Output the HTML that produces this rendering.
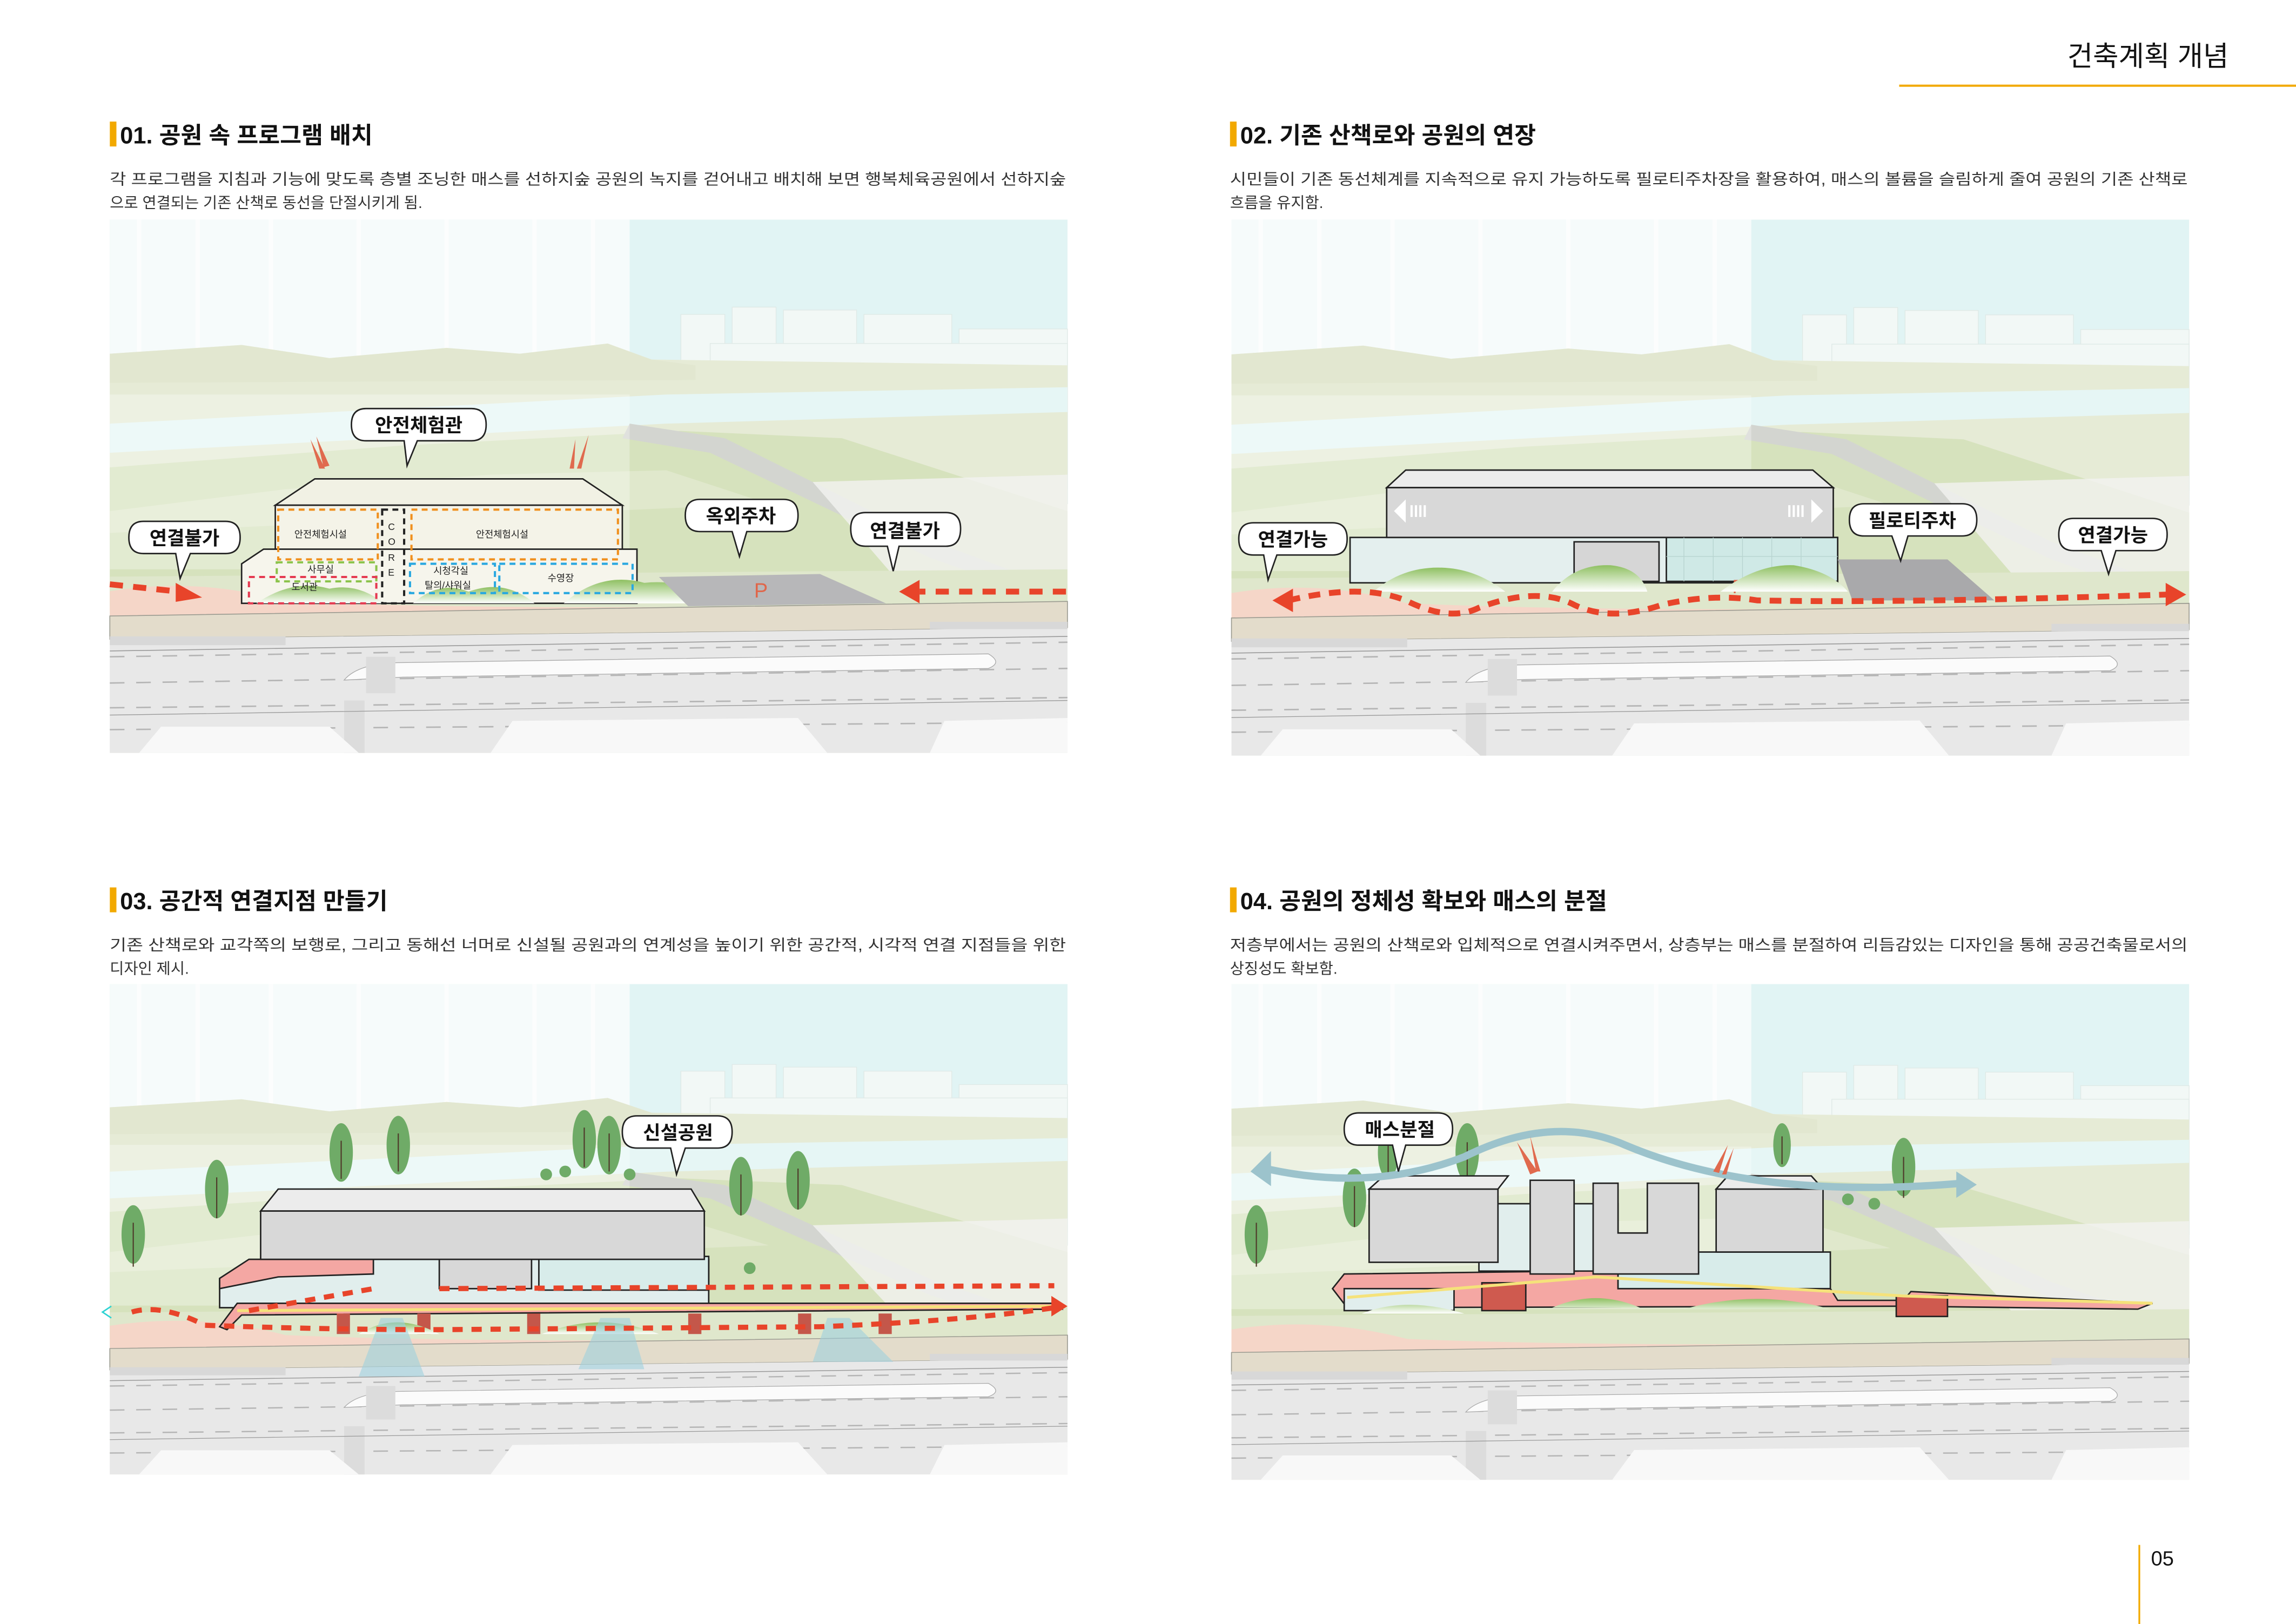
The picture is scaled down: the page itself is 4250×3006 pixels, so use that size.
<!DOCTYPE html>
<html><head><meta charset="utf-8"><style>
html,body{margin:0;padding:0;background:#fff}
svg{display:block}
text{font-family:"Liberation Sans","Noto Sans CJK KR",sans-serif}
</style></head><body>
<svg width="4250" height="3006" viewBox="0 0 1568 1109" xmlns="http://www.w3.org/2000/svg">
<defs>
<g id="bg">
  <rect x="0" y="0" width="654" height="366" fill="#eef3e6"/>
  <rect x="0" y="0" width="654" height="120" fill="#e1f4f4"/>
  <rect x="0" y="0" width="355" height="120" fill="#f6fbfb"/>
  <g stroke="#ffffff" stroke-width="3" opacity="0.7">
    <line x1="20" y1="0" x2="20" y2="200"/><line x1="60" y1="0" x2="60" y2="200"/><line x1="110" y1="0" x2="110" y2="200"/><line x1="170" y1="0" x2="170" y2="200"/><line x1="230" y1="0" x2="230" y2="200"/><line x1="290" y1="0" x2="290" y2="200"/><line x1="330" y1="0" x2="330" y2="200"/>
  </g>
  <g fill="#f2f8f6" stroke="#dfe9e6" stroke-width="0.5">
    <rect x="390" y="65" width="30" height="120"/><rect x="425" y="60" width="30" height="120"/><rect x="460" y="62" width="50" height="120"/><rect x="515" y="65" width="60" height="120"/><rect x="580" y="75" width="74" height="120"/>
    <rect x="410" y="85" width="244" height="100"/>
  </g>
  <path d="M0 92 L90 86 L150 95 L230 88 L280 92 L340 85 L370 96 L654 100 L654 270 L0 270Z" fill="#e6ebd6"/>
  <path d="M0 92 L90 86 L150 95 L230 88 L280 92 L340 85 L370 96 L400 100 L400 110 L0 112Z" fill="#dfe5cc" opacity="0.6"/>
  <path d="M0 140 L380 120 L654 115 L654 132 L380 140 L0 160Z" fill="#e6f6f5"/>
  <path d="M0 170 L200 155 L390 145 L500 150 L654 200 L654 260 L0 265Z" fill="#d6e2bd"/>
  <path d="M355 140 L420 150 L560 220 L654 255 L654 265 L560 232 L410 160 L350 150Z" fill="#d3d5d0"/>
  <path d="M0 200 L120 185 L260 175 L380 172 L450 195 L0 215Z" fill="#e4ebd3" opacity="0.7"/>
  <rect x="0" y="120" width="355" height="120" fill="#ffffff" opacity="0.3"/>
  <path d="M480 180 L654 175 L654 250 L540 250Z" fill="#f3f3f0" opacity="0.8"/>
  <path d="M0 245 L654 240 L654 272 L0 275Z" fill="#dfe7cc"/>
  <path d="M0 255 Q60 245 120 262 Q300 270 654 262 L654 272 L0 278Z" fill="#f5d6c8"/>
  <path d="M0 272 L654 262 L654 280 L0 288Z" fill="#e3dccb" stroke="#9a9a90" stroke-width="0.6"/>
  <path d="M0 288 L654 280 L654 366 L0 366Z" fill="#e8e8e8"/>
  <g stroke="#b5b5b5" stroke-width="1" stroke-dasharray="10 8" fill="none">
    <path d="M0 300 L654 290"/><path d="M0 318 L654 308"/><path d="M0 335 L654 328"/><path d="M0 350 L654 345"/>
  </g>
  <path d="M0 296 L654 286" stroke="#999" stroke-width="0.6"/>
  <path d="M160 316 Q170 304 200 304 L600 298 Q610 304 600 308 L200 314Z" fill="#fbfbfb" stroke="#aaa" stroke-width="0.5"/>
  <g fill="#dcdcdc"><rect x="175" y="300" width="20" height="25"/><rect x="160" y="330" width="14" height="36"/></g>
  <path d="M0 340 L654 330" stroke="#999" stroke-width="0.5"/>
  <path d="M20 366 L35 348 L150 348 L170 366Z" fill="#f8f8f8"/>
  <path d="M260 366 L275 344 L470 342 L490 366Z" fill="#f8f8f8"/>
  <path d="M560 366 L570 344 L654 342 L654 366Z" fill="#f8f8f8"/>
  <rect x="0" y="286" width="120" height="6" fill="#d8d8d8"/>
  <rect x="560" y="276" width="94" height="5" fill="#d8d8d8"/>
</g>
<linearGradient id="mound" x1="0" y1="0" x2="0" y2="1"><stop offset="0" stop-color="#8fc062"/><stop offset="1" stop-color="#ffffff"/></linearGradient>
</defs>

<text x="1522" y="45" font-size="19" text-anchor="end" fill="#111">건축계획 개념</text>
<line x1="1297" y1="58.5" x2="1568" y2="58.5" stroke="#f2a900" stroke-width="1.5"/>

<g font-weight="bold">
<rect x="75" y="83" width="4.5" height="17" fill="#f2a900"/>
<text x="82" y="98" font-size="16" fill="#111">01. 공원 속 프로그램 배치</text>
<rect x="840" y="83" width="4.5" height="17" fill="#f2a900"/>
<text x="847" y="98" font-size="16" fill="#111">02. 기존 산책로와 공원의 연장</text>
<rect x="75" y="606" width="4.5" height="17" fill="#f2a900"/>
<text x="82" y="621" font-size="16" fill="#111">03. 공간적 연결지점 만들기</text>
<rect x="840" y="606" width="4.5" height="17" fill="#f2a900"/>
<text x="847" y="621" font-size="16" fill="#111">04. 공원의 정체성 확보와 매스의 분절</text>
</g>

<g font-size="10.5" fill="#333">
<text x="75" y="126" textLength="653" lengthAdjust="spacingAndGlyphs">각 프로그램을 지침과 기능에 맞도록 층별 조닝한 매스를 선하지숲 공원의 녹지를 걷어내고 배치해 보면 행복체육공원에서 선하지숲</text>
<text x="75" y="142">으로 연결되는 기존 산책로 동선을 단절시키게 됨.</text>
<text x="840" y="126" textLength="654" lengthAdjust="spacingAndGlyphs">시민들이 기존 동선체계를 지속적으로 유지 가능하도록 필로티주차장을 활용하여, 매스의 볼륨을 슬림하게 줄여 공원의 기존 산책로</text>
<text x="840" y="142">흐름을 유지함.</text>
<text x="75" y="649" textLength="653" lengthAdjust="spacingAndGlyphs">기존 산책로와 교각쪽의 보행로, 그리고 동해선 너머로 신설될 공원과의 연계성을 높이기 위한 공간적, 시각적 연결 지점들을 위한</text>
<text x="75" y="665">디자인 제시.</text>
<text x="840" y="649" textLength="654" lengthAdjust="spacingAndGlyphs">저층부에서는 공원의 산책로와 입체적으로 연결시켜주면서, 상층부는 매스를 분절하여 리듬감있는 디자인을 통해 공공건축물로서의</text>
<text x="840" y="665">상징성도 확보함.</text>
</g>

<use href="#bg" transform="translate(75,150) scale(1,0.995)"/>
<use href="#bg" transform="translate(841,150)"/>
<use href="#bg" transform="translate(75,672) scale(1,0.915)"/>
<use href="#bg" transform="translate(841,672) scale(1,0.925)"/>

<!-- PANEL 1 -->
<g stroke="#222" stroke-width="1">
  <path d="M215 327 L398 327 L425 345 L188 345Z" fill="#f1f1e4"/>
  <rect x="188" y="345" width="237" height="40" fill="#f4f3e8"/>
  <path d="M165 385 L180 375 L435 375 L435 412 L165 412Z" fill="#f6f5ec"/>
</g>
<path d="M175 412 Q200 395 225 402 Q245 398 262 412Z" fill="url(#mound)"/>
<path d="M282 412 Q300 396 320 404 Q345 395 365 412Z" fill="url(#mound)"/>
<path d="M385 412 Q410 390 440 398 Q470 395 490 412Z" fill="url(#mound)"/>
<g fill="none" stroke-width="1.5" stroke-dasharray="4 3">
  <rect x="190" y="348" width="68" height="34" stroke="#f0901e"/>
  <rect x="281" y="348" width="141" height="34" stroke="#f0901e"/>
  <rect x="261" y="348" width="15" height="64" stroke="#222"/>
  <rect x="189" y="384" width="68" height="13" stroke="#8bc34a"/>
  <rect x="170" y="394" width="87" height="18" stroke="#e53950"/>
  <rect x="280" y="385" width="58" height="20" stroke="#29a8e0"/>
  <rect x="341" y="385" width="91" height="20" stroke="#29a8e0"/>
</g>
<g font-size="6.5" fill="#222">
  <text x="201" y="367">안전체험시설</text><text x="325" y="367">안전체험시설</text>
  <text x="210" y="391">사무실</text><text x="199" y="403">도서관</text>
  <text x="296" y="392">시청각실</text><text x="290" y="402">탈의/샤워실</text><text x="374" y="397">수영장</text>
  <text x="265" y="362">C</text><text x="265" y="372">O</text><text x="265" y="383">R</text><text x="265" y="393">E</text>
</g>
<path d="M450 394 L560 392 L605 412 L470 414Z" fill="#b7b7b9"/>
<text x="515" y="408" font-size="14" fill="#e0664a">P</text>
<g fill="#e06a4e"><path d="M212 300 L222 320 L218 320Z"/><path d="M216 298 L225 318 L221 319Z"/><path d="M393 300 L389 320 L392 320Z"/><path d="M402 297 L394 320 L397 320Z"/></g>
<g stroke="#e8442a" stroke-width="4" stroke-dasharray="9 7" fill="none">
  <path d="M75 399 L122 404"/><path d="M728 404 L628 404"/>
</g>
<path d="M120 398 L138 408 L120 411Z" fill="#e8442a"/>
<path d="M628 396 L614 404 L628 412Z" fill="#e8442a"/>
<g fill="#fff" stroke="#222" stroke-width="1">
  <path d="M250 279 H322 Q332 279 332 290 Q332 301 322 301 H285 L278 318 L276 301 H250 Q240 301 240 290 Q240 279 250 279Z"/>
  <path d="M98 356 H154 Q164 356 164 367 Q164 378 154 378 H130 L123 395 L120 378 H98 Q88 378 88 367 Q88 356 98 356Z"/>
  <path d="M478 341 H535 Q545 341 545 352 Q545 363 535 363 H510 L505 380 L500 363 H478 Q468 363 468 352 Q468 341 478 341Z"/>
  <path d="M591 350 H646 Q656 350 656 361 Q656 373 646 373 H614 L610 390 L606 373 H591 Q581 373 581 361 Q581 350 591 350Z"/>
</g>
<g font-size="13" fill="#111" text-anchor="middle" font-weight="bold">
  <text x="286" y="295">안전체험관</text><text x="126" y="372">연결불가</text><text x="506" y="357">옥외주차</text><text x="618" y="367">연결불가</text>
</g>

<!-- PANEL 2 -->
<g stroke="#222" stroke-width="1">
  <rect x="922" y="367" width="333" height="31" fill="#e4efee"/>
  <rect x="1138" y="367" width="117" height="30" fill="#cfe9e6"/>
  <rect x="1075" y="370" width="58" height="27" fill="#d6d6d6"/>
  <path d="M960 321 L1238 321 L1252 333 L947 333Z" fill="#ececec"/>
  <rect x="947" y="333" width="305" height="34" fill="#d8d8d8"/>
</g>
<g stroke="#b8d4d0" stroke-width="0.5">
  <line x1="1150" y1="367" x2="1150" y2="397"/><line x1="1170" y1="367" x2="1170" y2="397"/><line x1="1190" y1="367" x2="1190" y2="397"/><line x1="1210" y1="367" x2="1210" y2="397"/><line x1="1230" y1="367" x2="1230" y2="397"/><line x1="1138" y1="380" x2="1255" y2="380"/>
</g>
<path d="M1255 382 L1330 382 L1362 410 L1265 410Z" fill="#a9a9ab"/>
<text x="1183" y="405" font-size="13" fill="#e0664a">P</text>
<path d="M938 404 Q960 385 990 388 Q1010 390 1028 404Z" fill="url(#mound)"/>
<path d="M1060 404 Q1075 385 1100 386 Q1120 388 1125 404Z" fill="url(#mound)"/>
<path d="M1175 404 Q1200 385 1225 386 Q1250 390 1262 404Z" fill="url(#mound)"/>
<g fill="#fff"><path d="M960 341 L952 349 L960 357Z"/><path d="M1237 341 L1245 349 L1237 357Z"/></g>
<g stroke="#fff" stroke-width="1.5"><path d="M964 345 V353 M967 345 V353 M970 345 V353 M973 345 V353 M1222 345 V353 M1225 345 V353 M1228 345 V353 M1231 345 V353"/></g>
<path d="M880 410 Q930 398 960 410 Q990 425 1010 415 Q1050 400 1075 413 Q1100 425 1135 413 Q1170 405 1200 410 Q1300 412 1480 406" fill="none" stroke="#e8442a" stroke-width="4" stroke-dasharray="8 6"/>
<path d="M883 402 L869 410 L883 418Z" fill="#e8442a"/>
<path d="M1479 398 L1493 406 L1479 414Z" fill="#e8442a"/>
<g fill="#fff" stroke="#222" stroke-width="1">
  <path d="M856 357 H910 Q920 357 920 368 Q920 379 910 379 H872 L866 396 L863 379 H856 Q846 379 846 368 Q846 357 856 357Z"/>
  <path d="M1273 344 H1340 Q1350 344 1350 355 Q1350 366 1340 366 H1303 L1298 383 L1292 366 H1273 Q1263 366 1263 355 Q1263 344 1273 344Z"/>
  <path d="M1416 354 H1470 Q1480 354 1480 365 Q1480 376 1470 376 H1445 L1440 392 L1435 376 H1416 Q1406 376 1406 365 Q1406 354 1416 354Z"/>
</g>
<g font-size="13" fill="#111" text-anchor="middle" font-weight="bold">
  <text x="883" y="373">연결가능</text><text x="1306" y="360">필로티주차</text><text x="1443" y="370">연결가능</text>
</g>

<!-- PANEL 3 -->
<g fill="#6fab67">
  <ellipse cx="91" cy="843" rx="8" ry="20"/><ellipse cx="148" cy="812" rx="8" ry="20"/><ellipse cx="233" cy="787" rx="8" ry="20"/><ellipse cx="272" cy="782" rx="8" ry="20"/><ellipse cx="399" cy="778" rx="8" ry="20"/><ellipse cx="416" cy="782" rx="8" ry="20"/><ellipse cx="506" cy="810" rx="8" ry="20"/><ellipse cx="545" cy="806" rx="8" ry="20"/>
  <circle cx="373" cy="802" r="4"/><circle cx="386" cy="800" r="4"/><circle cx="430" cy="802" r="4"/><circle cx="512" cy="866" r="4"/>
</g>
<g stroke="#4f3a2a" stroke-width="0.8"><path d="M91 835 V865 M148 804 V832 M233 779 V805 M272 774 V800 M399 770 V797 M416 774 V800 M506 802 V830 M545 798 V826"/></g>
<g stroke="#222" stroke-width="1">
  <path d="M150 873 L170 860 L484 860 L484 893 L150 893Z" fill="#e1eeed"/>
  <path d="M150 873 L170 860 L255 860 L255 870 L190 872 L150 880Z" fill="#f4a7a3"/>
  <rect x="300" y="858" width="63" height="22" fill="#d8d8d8"/>
  <rect x="368" y="858" width="116" height="23" fill="#d8ecea"/>
  <path d="M190 812 L472 812 L481 827 L178 827Z" fill="#ececec"/>
  <rect x="178" y="827" width="303" height="33" fill="#d8d8d8"/>
  <path d="M150 906 L162 890 L720 890 L725 894 L165 898 L155 908Z" fill="#f4a7a3"/>
</g>
<path d="M162 895 L720 892" stroke="#f5e27a" stroke-width="2"/>
<g fill="#c4574a"><rect x="230" y="897" width="9" height="14"/><rect x="285" y="897" width="9" height="14"/><rect x="360" y="897" width="9" height="14"/><rect x="470" y="897" width="9" height="14"/><rect x="545" y="897" width="9" height="14"/><rect x="600" y="897" width="9" height="14"/></g>
<path d="M245 911 Q270 895 300 911Z M370 911 Q410 895 450 911Z" fill="url(#mound)"/>
<g fill="#9fd0de" opacity="0.6"><path d="M260 900 L275 900 L290 940 L245 940Z"/><path d="M410 900 L430 900 L440 935 L395 935Z"/><path d="M565 900 L580 900 L610 930 L555 930Z"/></g>
<g fill="none" stroke="#e8442a" stroke-width="3.5" stroke-dasharray="7 6">
  <path d="M300 880 L720 878"/>
  <path d="M90 896 Q110 890 140 905 Q220 908 300 908 L560 906 Q660 902 720 893"/>
  <path d="M170 895 L255 880"/>
</g>
<path d="M718 885 L729 892 L718 899Z" fill="#e8442a"/>
<path d="M76 892 L70 896 L76 900" fill="none" stroke="#2ed3d3" stroke-width="1"/>
<g fill="#fff" stroke="#222" stroke-width="1">
  <path d="M435 762 H490 Q500 762 500 773 Q500 784 490 784 H468 L462 802 L458 784 H435 Q425 784 425 773 Q425 762 435 762Z"/>
</g>
<text x="463" y="778" font-size="13" fill="#111" text-anchor="middle" font-weight="bold">신설공원</text>

<!-- PANEL 4 -->
<g fill="#6fab67">
  <ellipse cx="858" cy="843" rx="8" ry="20"/><ellipse cx="925" cy="818" rx="8" ry="20"/><ellipse cx="948" cy="787" rx="7" ry="18"/><ellipse cx="1002" cy="787" rx="8" ry="20"/><ellipse cx="1217" cy="782" rx="6" ry="15"/><ellipse cx="1300" cy="797" rx="8" ry="20"/>
  <circle cx="1201" cy="810" r="4"/><circle cx="1262" cy="819" r="4"/><circle cx="1280" cy="822" r="4"/><circle cx="1242" cy="880" r="4"/>
</g>
<g stroke="#4f3a2a" stroke-width="0.8"><path d="M858 835 V865 M925 810 V838 M948 780 V805 M1002 780 V807 M1217 776 V795 M1300 790 V818"/></g>
<g stroke="#222" stroke-width="1">
  <path d="M910 880 L918 870 L1078 868 L1090 858 L1105 858 L1105 880 L1250 880 L1255 888 L1300 888 L1305 882 L1470 890 L1460 894 L1300 892 L920 893Z" fill="#f4a7a3"/>
  <rect x="918" y="880" width="75" height="15" fill="#e1eeed"/>
  <rect x="1105" y="855" width="145" height="25" fill="#d8ecea"/>
  <rect x="1010" y="822" width="95" height="46" fill="#e1eeed"/>
  <rect x="935" y="812" width="88" height="50" fill="#d8d8d8"/>
  <path d="M935 812 L945 803 L1030 803 L1023 812Z" fill="#ececec"/>
  <rect x="1045" y="806" width="30" height="64" fill="#d8d8d8"/>
  <path d="M1088 808 L1105 808 L1105 842 L1125 842 L1125 808 L1160 808 L1160 870 L1088 870Z" fill="#d8d8d8"/>
  <rect x="1172" y="812" width="73" height="43" fill="#d8d8d8"/>
  <path d="M1172 812 L1180 803 L1237 803 L1245 812Z" fill="#ececec"/>
  <rect x="1012" y="876" width="30" height="19" fill="#cf5a4f"/>
  <rect x="1295" y="885" width="35" height="14" fill="#cf5a4f"/>
</g>
<path d="M920 886 L1090 872 L1300 885 L1470 890" stroke="#f5e27a" stroke-width="2" fill="none"/>
<path d="M930 897 Q960 885 1000 897Z M1060 893 Q1090 880 1120 893Z M1150 894 Q1200 880 1250 894Z" fill="url(#mound)"/>
<path d="M860 797 Q935 815 1000 790 Q1060 760 1110 782 Q1200 820 1340 808" fill="none" stroke="#9cc3cc" stroke-width="5"/>
<path d="M868 786 L854 800 L868 810Z" fill="#9cc3cc"/>
<path d="M1336 800 L1350 809 L1336 818Z" fill="#9cc3cc"/>
<g fill="#e06a4e"><path d="M1036 780 L1050 800 L1045 802Z"/><path d="M1045 776 L1052 800 L1049 800Z"/><path d="M1180 782 L1170 800 L1174 801Z"/><path d="M1184 784 L1176 802 L1179 802Z"/></g>
<g fill="#fff" stroke="#222" stroke-width="1">
  <path d="M928 760 H982 Q992 760 992 771 Q992 782 982 782 H960 L955 800 L951 782 H928 Q918 782 918 771 Q918 760 928 760Z"/>
</g>
<text x="956" y="776" font-size="13" fill="#111" text-anchor="middle" font-weight="bold">매스분절</text>

<line x1="1461" y1="1055" x2="1461" y2="1109" stroke="#f2a900" stroke-width="1.2"/>
<text x="1469" y="1069" font-size="14" fill="#111">05</text>
</svg>
</body></html>
